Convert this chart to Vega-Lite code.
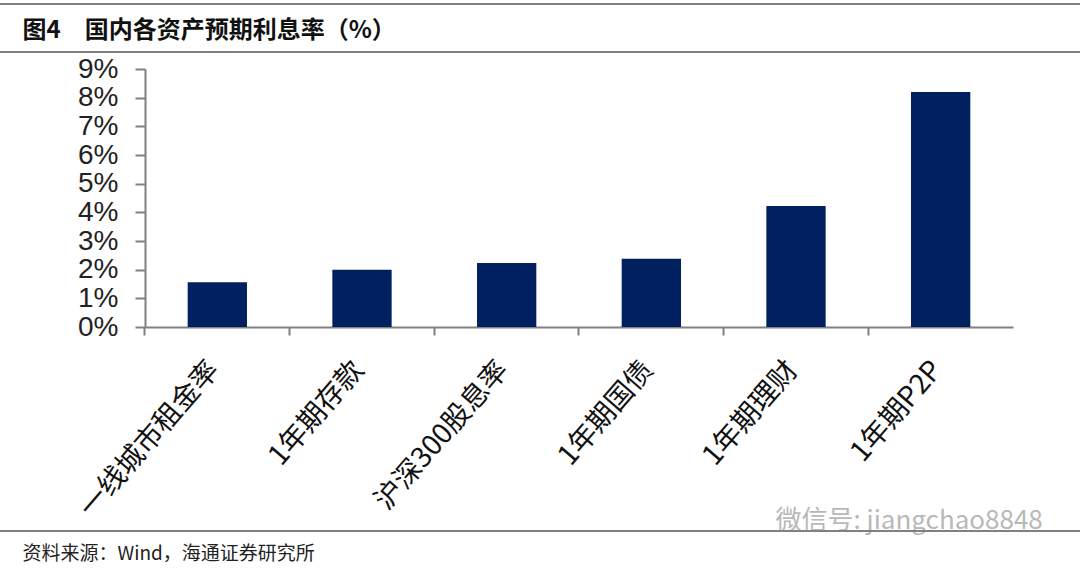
{
  "$schema": "https://vega.github.io/schema/vega-lite/v6.json",
  "width": 1080,
  "height": 570,
  "autosize": {"type": "none"},
  "padding": 0,
  "background": "white",
  "config": {"view": {"stroke": null}},
  "resolve": {"axis": {"y": "independent"}},
  "layer": [
    {
      "data": {"values": [{}]},
      "mark": {"type": "rule", "color": "#808080", "strokeWidth": 2},
      "encoding": {
        "y": {
          "datum": 11.27,
          "type": "quantitative",
          "scale": {"domain": [0, 9], "range": [327, 69], "nice": false},
          "axis": {
            "orient": "right",
            "title": "图4\u2003国内各资产预期利息率（%）",
            "titleX": -1058,
            "titleY": 30,
            "titleAngle": 0,
            "titleAlign": "left",
            "titleBaseline": "middle",
            "titleFont": "Noto Sans CJK SC",
            "titleFontSize": 24,
            "titleFontWeight": "bold",
            "titleColor": "#111111",
            "domain": false,
            "ticks": false,
            "labels": false,
            "grid": false
          }
        }
      }
    },
    {
      "data": {"values": [{}]},
      "mark": {"type": "rule", "color": "#808080", "strokeWidth": 2},
      "encoding": {"y": {"datum": 9.59, "type": "quantitative", "axis": null}}
    },
    {
      "data": {"values": [{}]},
      "mark": {"type": "rule", "color": "#808080", "strokeWidth": 2},
      "encoding": {"y": {"datum": -7.12, "type": "quantitative", "axis": null}}
    },
    {
      "data": {
        "values": [
          {"name": "一线城市租金率", "rate": 1.56},
          {"name": "1年期存款", "rate": 2.0},
          {"name": "沪深300股息率", "rate": 2.23},
          {"name": "1年期国债", "rate": 2.38},
          {"name": "1年期理财", "rate": 4.22},
          {"name": "1年期P2P", "rate": 8.2}
        ]
      },
      "mark": {"type": "bar", "color": "#002060"},
      "encoding": {
        "x": {
          "field": "name",
          "type": "nominal",
          "sort": null,
          "scale": {"range": [145, 1013], "paddingInner": 0.59, "paddingOuter": 0.295},
          "axis": {
            "title": "资料来源：Wind，海通证券研究所",
            "titleX": 22,
            "titleY": 226,
            "titleAlign": "left",
            "titleBaseline": "middle",
            "titleAngle": 0,
            "titleFont": "Noto Sans CJK SC",
            "titleFontSize": 19,
            "titleFontWeight": "normal",
            "titleColor": "#222222",
            "offset": -243,
            "bandPosition": -0.72,
            "labelOffset": -3,
            "labelAngle": -49,
            "labelAlign": "right",
            "labelBaseline": "middle",
            "labelFont": "Noto Sans CJK SC",
            "labelFontSize": 28,
            "labelColor": "#111111",
            "labelPadding": 30,
            "labelOverlap": false,
            "labelLimit": 0,
            "tickSize": 8,
            "tickWidth": 2,
            "tickColor": "#808080",
            "domainColor": "#808080",
            "domainWidth": 2,
            "grid": false
          }
        },
        "y": {
          "field": "rate",
          "type": "quantitative",
          "axis": {
            "orient": "left",
            "title": "微信号: jiangchao8848",
            "titleX": 630,
            "titleY": 520,
            "titleAngle": 0,
            "titleAlign": "left",
            "titleBaseline": "middle",
            "titleFont": "Noto Sans CJK SC",
            "titleFontSize": 26,
            "titleFontWeight": "normal",
            "titleColor": "#b8b8b8",
            "offset": -145,
            "values": [0, 1, 2, 3, 4, 5, 6, 7, 8, 9],
            "labelExpr": "datum.value + '%'",
            "labelFont": "Liberation Sans",
            "labelFontSize": 28,
            "labelColor": "#222222",
            "labelPadding": 17,
            "tickSize": 10,
            "tickWidth": 2,
            "tickColor": "#808080",
            "domainColor": "#808080",
            "domainWidth": 2,
            "grid": false
          }
        }
      }
    }
  ]
}
